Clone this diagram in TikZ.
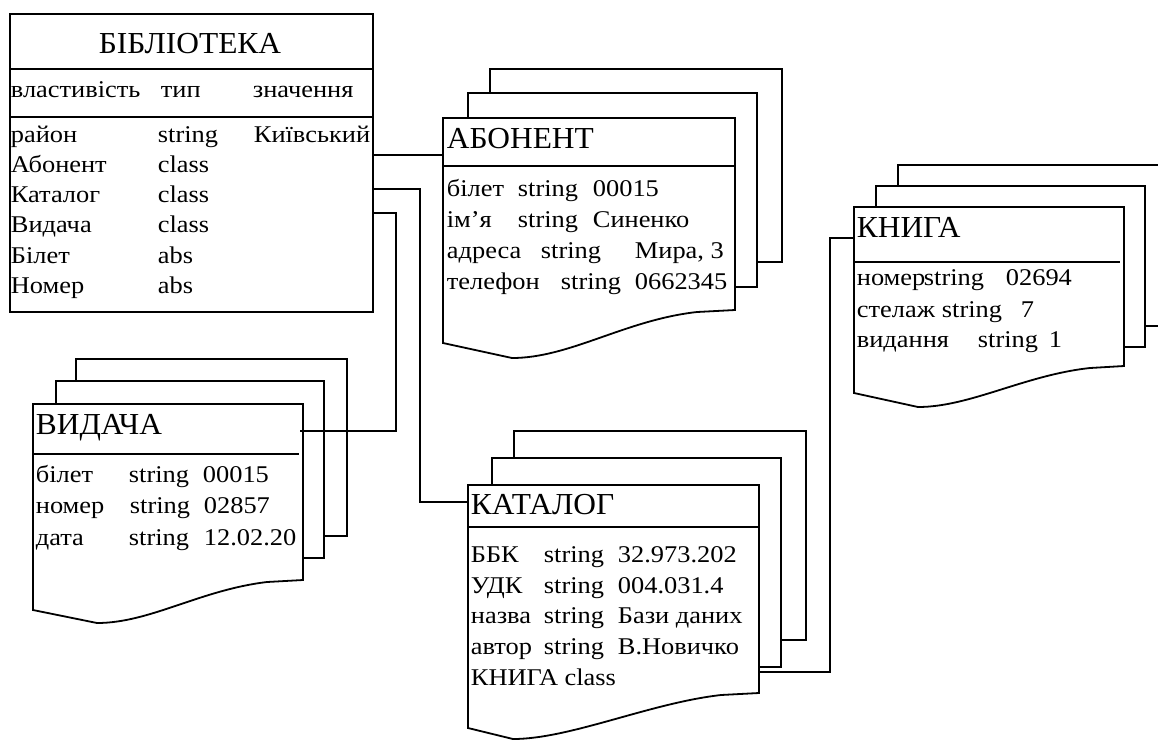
\documentclass[tikz,border=0pt]{standalone}
\usepackage{fontspec}
\setmainfont{Liberation Serif}[FakeStretch=1.1]
\newfontfamily\ttlfont{Liberation Serif}[FakeStretch=1.03]

\begin{document}
\begin{tikzpicture}[x=1pt,y=-1pt,line width=1.8pt,
	txt/.style={anchor=base west,inner sep=0pt,font=\fontsize{24}{29}\selectfont},
	ttl/.style={anchor=base west,inner sep=0pt,font=\ttlfont\fontsize{30.5}{36}\selectfont}]
	
	\useasboundingbox (0,0) rectangle (1158,740);
	
	% БІБЛІОТЕКА
	\node [draw,anchor=north west,inner sep=0pt,minimum width=363pt,minimum height=298pt] (bib) at (9,13) {};
	\draw (9,69) -- (372,69);
	\draw (9,117) -- (372,117);
	\node [ttl,anchor=base] (bib-title) at (190,53) {БІБЛІОТЕКА};
	\node [txt] (bib-h1) at (10,97) {властивість};
	\node [txt] (bib-h2) at (160,97) {тип};
	\node [txt] (bib-h3) at (252,97) {значення};
	\node [txt] (bib-1p) at (10,142) {район};
	\node [txt] (bib-1t) at (157,142) {string};
	\node [txt] (bib-1v) at (253,142) {Київський};
	\node [txt] (bib-2p) at (10,172) {Абонент};
	\node [txt] (bib-2t) at (157,172) {class};
	\node [txt] (bib-3p) at (10,202) {Каталог};
	\node [txt] (bib-3t) at (157,202) {class};
	\node [txt] (bib-4p) at (10,232) {Видача};
	\node [txt] (bib-4t) at (157,232) {class};
	\node [txt] (bib-5p) at (10,263) {Білет};
	\node [txt] (bib-5t) at (157,263) {abs};
	\node [txt] (bib-6p) at (10,293) {Номер};
	\node [txt] (bib-6t) at (157,293) {abs};
	
	% АБОНЕНТ
	\draw (443,118) -- (735,118) -- (735,310) -- (697,312) .. controls (625,320) and (570,358) .. (512,358) -- (443,343) -- cycle;
	\draw (443,166) -- (735,166);
	\draw (468,118) -- (468,93) -- (757,93) -- (757,287) -- (735,287);
	\draw (490,93) -- (490,69) -- (782,69) -- (782,262) -- (757,262);
	\node [ttl] (ab-title) at (446,148) {АБОНЕНТ};
	\node [txt] (ab-1p) at (446,196) {білет};
	\node [txt] (ab-1t) at (517,196) {string};
	\node [txt] (ab-1v) at (592,196) {00015};
	\node [txt] (ab-2p) at (446,227) {ім’я};
	\node [txt] (ab-2t) at (517,227) {string};
	\node [txt] (ab-2v) at (592,227) {Синенко};
	\node [txt] (ab-3p) at (446,258) {адреса};
	\node [txt] (ab-3t) at (540,258) {string};
	\node [txt] (ab-3v) at (634,258) {Мира, 3};
	\node [txt] (ab-4p) at (446,289) {телефон};
	\node [txt] (ab-4t) at (560,289) {string};
	\node [txt] (ab-4v) at (634,289) {0662345};
	
	% КНИГА
	\draw (854,207) -- (1124,207) -- (1124,366) -- (1090,368) .. controls (1025,375) and (970,407) .. (918,407) -- (854,393) -- cycle;
	\draw (854,262) -- (1120,262);
	\draw (876,207) -- (876,186) -- (1145,186) -- (1145,347) -- (1124,347);
	\draw (898,186) -- (898,165) -- (1168,165) -- (1168,326) -- (1145,326);
	\node [ttl] (kn-title) at (856,237) {КНИГА};
	\node [txt] (kn-1p) at (856,285) {номер};
	\node [txt] (kn-1t) at (923,285) {string};
	\node [txt] (kn-1v) at (1005,285) {02694};
	\node [txt] (kn-2p) at (856,317) {стелаж};
	\node [txt] (kn-2t) at (941,317) {string};
	\node [txt] (kn-2v) at (1020,317) {7};
	\node [txt] (kn-3p) at (856,347) {видання};
	\node [txt] (kn-3t) at (977,347) {string};
	\node [txt] (kn-3v) at (1048,347) {1};
	
	% ВИДАЧА
	\draw (33,404) -- (303,404) -- (303,580) -- (267,582) .. controls (200,590) and (150,623) .. (97,623) -- (33,610) -- cycle;
	\draw (33,454) -- (299,454);
	\draw (56,404) -- (56,381) -- (324,381) -- (324,558) -- (303,558);
	\draw (76,381) -- (76,359) -- (347,359) -- (347,536) -- (324,536);
	\node [ttl] (vyd-title) at (35,434) {ВИДАЧА};
	\node [txt] (vyd-1p) at (35,482) {білет};
	\node [txt] (vyd-1t) at (128,482) {string};
	\node [txt] (vyd-1v) at (202,482) {00015};
	\node [txt] (vyd-2p) at (35,513) {номер};
	\node [txt] (vyd-2t) at (129,513) {string};
	\node [txt] (vyd-2v) at (203,513) {02857};
	\node [txt] (vyd-3p) at (35,545) {дата};
	\node [txt] (vyd-3t) at (128,545) {string};
	\node [txt] (vyd-3v) at (203,545) {12.02.20};
	
	% КАТАЛОГ
	\draw (468,485) -- (759,485) -- (759,693) -- (721,695) .. controls (650,703) and (570,739) .. (513,739) -- (468,728) -- cycle;
	\draw (468,527) -- (759,527);
	\draw (492,485) -- (492,458) -- (781,458) -- (781,667) -- (759,667);
	\draw (514,458) -- (514,431) -- (806,431) -- (806,640) -- (781,640);
	\node [ttl] (kat-title) at (470,514) {КАТАЛОГ};
	\node [txt] (kat-1p) at (470,562) {ББК};
	\node [txt] (kat-1t) at (543,562) {string};
	\node [txt] (kat-1v) at (617,562) {32.973.202};
	\node [txt] (kat-2p) at (470,593) {УДК};
	\node [txt] (kat-2t) at (543,593) {string};
	\node [txt] (kat-2v) at (617,593) {004.031.4};
	\node [txt] (kat-3p) at (470,623) {назва};
	\node [txt] (kat-3t) at (543,623) {string};
	\node [txt] (kat-3v) at (617,623) {Бази даних};
	\node [txt] (kat-4p) at (470,654) {автор};
	\node [txt] (kat-4t) at (543,654) {string};
	\node [txt] (kat-4v) at (617,654) {В.Новичко};
	\node [txt] (kat-5p) at (470,685) {КНИГА class};
	
	% links
	\coordinate (bib-ab) at (bib.east |- 0,155);
	\coordinate (bib-kat) at (bib.east |- 0,189);
	\coordinate (bib-vyd) at (bib.east |- 0,213);
	\coordinate (ab-in) at (443,155);
	\coordinate (kat-in) at (468,502);
	\coordinate (vyd-in) at (300,431);
	\coordinate (kat-out) at (759,672);
	\coordinate (kn-in) at (854,238);
	
	\draw (bib-ab) -- (ab-in);
	\draw (bib-kat) -- (420,189) |- (kat-in);
	\draw (bib-vyd) -- (396,213) |- (vyd-in);
	\draw (kat-out) -- (830,672) |- (kn-in);
	
\end{tikzpicture}
\end{document}
